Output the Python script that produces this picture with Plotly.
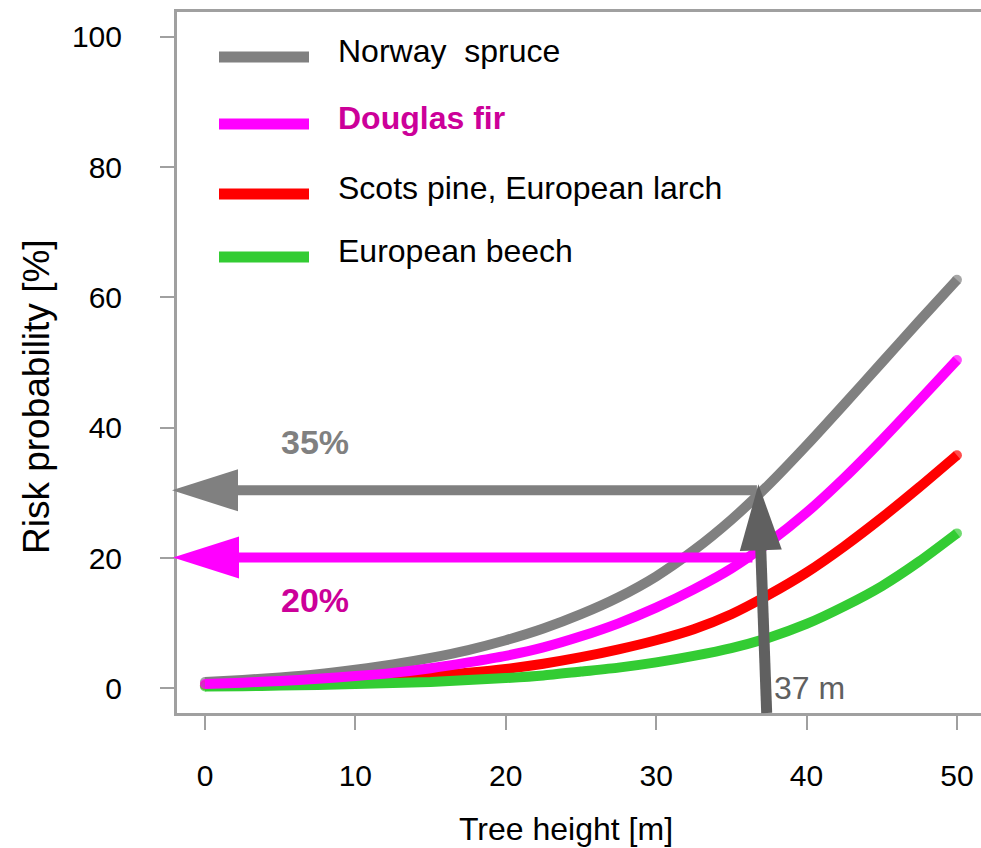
import plotly.graph_objects as go

# ---------------- data ----------------
tree_height = [0, 2.5, 5, 7.5, 10, 12.5, 15, 17.5, 20, 22.5, 25,
               27.5, 30, 32.5, 35, 37.5, 40, 42.5, 45, 47.5, 50]

norway_spruce = [1.0, 1.3, 1.7, 2.2, 2.9, 3.7, 4.7, 5.9, 7.4, 9.2, 11.4,
                 14.0, 17.2, 21.2, 25.9, 31.3, 37.3, 43.6, 50.0, 56.4, 62.7]
douglas_fir = [0.7, 0.9, 1.15, 1.5, 1.9, 2.4, 3.1, 4.0, 5.0, 6.3, 8.0,
               10.0, 12.4, 15.2, 18.4, 22.4, 27.0, 32.3, 38.1, 44.2, 50.4]
scots_pine_larch = [0.5, 0.6, 0.75, 0.95, 1.2, 1.5, 1.9, 2.4, 3.0, 3.8, 4.8,
                    6.0, 7.4, 9.1, 11.4, 14.4, 17.8, 21.8, 26.2, 30.9, 35.8]
european_beech = [0.3, 0.35, 0.45, 0.55, 0.7, 0.85, 1.0, 1.3, 1.6, 2.0, 2.6,
                  3.2, 4.0, 5.0, 6.2, 7.8, 9.9, 12.6, 15.7, 19.5, 23.8]

series_names = ["Norway\u00a0 spruce", "Douglas fir",
                "Scots pine, European larch", "European beech"]
series_values = [norway_spruce, douglas_fir, scots_pine_larch, european_beech]
series_colors = ["#808080", "#ff00ff", "#ff0000", "#33cc33"]
label_colors = ["#000000", "#cc0099", "#000000", "#000000"]
label_bold = [False, True, False, False]
draw_order = [0, 2, 3, 1]

x_ticks = [0, 10, 20, 30, 40, 50]
y_ticks = [0, 20, 40, 60, 80, 100]
x_title = "Tree height [m]"
y_title = "Risk probability [%]"

# example reading: 37 m tall tree
example_height_label = "37 m"
example_height_bottom = 37.35
example_height_top = 36.8
spruce_level = 30.4
spruce_level_label = "35%"
spruce_line_end = 36.7
fir_level = 20.1
fir_level_label = "20%"
fir_line_end = 36.4

# ---------------- geometry helpers ----------------
W, H = 981, 848
PL, PR, PT, PB = 177, 981, 12, 713
X0, X1 = -1.86, 51.6
Y0, Y1 = -3.76, 103.8


def xpx(x):
    return PL + (x - X0) / (X1 - X0) * (PR - PL)


def ypx(y):
    return PB - (y - Y0) / (Y1 - Y0) * (PB - PT)


def xp(px):
    return (px - PL) / (PR - PL)


def yp(py):
    return (PB - py) / (PB - PT)


def arrow_shapes(x_start_px, y_start_px, x_tip_px, y_tip_px, color, width,
                 head_len=66, head_half=21):
    dx, dy = x_tip_px - x_start_px, y_tip_px - y_start_px
    L = (dx * dx + dy * dy) ** 0.5
    ux, uy = dx / L, dy / L
    nx, ny = -uy, ux
    bx, by = x_tip_px - ux * head_len, y_tip_px - uy * head_len
    line = dict(type="line", xref="paper", yref="paper",
                x0=xp(x_start_px), y0=yp(y_start_px),
                x1=xp(bx + ux * 4), y1=yp(by + uy * 4),
                line=dict(color=color, width=width), layer="above")
    p1 = (bx + nx * head_half, by + ny * head_half)
    p2 = (bx - nx * head_half, by - ny * head_half)
    path = "M{},{} L{},{} L{},{} Z".format(
        xp(x_tip_px), yp(y_tip_px), xp(p1[0]), yp(p1[1]), xp(p2[0]), yp(p2[1]))
    head = dict(type="path", xref="paper", yref="paper", path=path,
                fillcolor=color, line=dict(width=0), layer="above")
    return [line, head]


FONT = "Liberation Sans, Arial, sans-serif"

fig = go.Figure()
n = len(tree_height)
for i in draw_order:
    fig.add_trace(go.Scatter(
        x=tree_height, y=series_values[i], name=series_names[i],
        mode="lines+markers",
        line=dict(color=series_colors[i], width=10, shape="spline", smoothing=0.6),
        marker=dict(size=[10] + [0] * (n - 2) + [10], color=series_colors[i],
                    line=dict(width=0)),
        showlegend=False, hoverinfo="skip"))

shapes = []
# horizontal arrows (reading the risk off the y-axis)
shapes += arrow_shapes(xpx(spruce_line_end), ypx(spruce_level),
                       172, ypx(spruce_level), "#808080", 10)
shapes += arrow_shapes(xpx(fir_line_end), ypx(fir_level),
                       173, ypx(fir_level), "#ff00ff", 10)
# vertical arrow at the example tree height
shapes += arrow_shapes(xpx(example_height_bottom), PB,
                       xpx(example_height_top), ypx(spruce_level) - 6,
                       "#606060", 11)

# custom legend
legend_rows_py = [57, 124, 194, 257]
annotations = []
for i, py in enumerate(legend_rows_py):
    shapes.append(dict(type="line", xref="paper", yref="paper",
                       x0=xp(219), x1=xp(309), y0=yp(py), y1=yp(py),
                       line=dict(color=series_colors[i], width=11), layer="above"))
    txt = series_names[i]
    if label_bold[i]:
        txt = "<b>" + txt + "</b>"
    annotations.append(dict(xref="paper", yref="paper", x=xp(336), y=yp(py - 6),
                            xanchor="left", yanchor="middle", showarrow=False,
                            text=txt, font=dict(family=FONT, size=32,
                                                color=label_colors[i])))

annotations.append(dict(xref="x", yref="y", x=(315 - xpx(0)) / 15.04, y=spruce_level + 7.4,
                        text="<b>" + spruce_level_label + "</b>", showarrow=False,
                        xanchor="center", yanchor="middle",
                        font=dict(family=FONT, size=34, color="#808080")))
annotations.append(dict(xref="x", yref="y", x=(315 - xpx(0)) / 15.04, y=fir_level - 6.5,
                        text="<b>" + fir_level_label + "</b>", showarrow=False,
                        xanchor="center", yanchor="middle",
                        font=dict(family=FONT, size=34, color="#cc0099")))
annotations.append(dict(xref="x", yref="y", x=example_height_bottom + 0.35, y=0,
                        text=example_height_label, showarrow=False,
                        xanchor="left", yanchor="middle",
                        font=dict(family=FONT, size=32, color="#606060")))

# axis titles (placed as in the original drawing)
annotations.append(dict(xref="paper", yref="paper", x=xp(566), y=yp(829),
                        text=x_title, showarrow=False,
                        xanchor="center", yanchor="middle",
                        font=dict(family=FONT, size=32, color="#000000")))
annotations.append(dict(xref="paper", yref="paper", x=xp(36), y=yp(397),
                        text=y_title, showarrow=False, textangle=-90,
                        xanchor="center", yanchor="middle",
                        font=dict(family=FONT, size=37, color="#000000")))

axis_common = dict(showgrid=False, zeroline=False, showline=True,
                   linecolor="#a0a0a0", linewidth=3, ticks="outside",
                   ticklen=14, tickwidth=2, tickcolor="#a0a0a0",
                   tickfont=dict(family=FONT, size=30, color="#000000"))

fig.update_layout(
    width=W, height=H,
    margin=dict(l=PL, r=W - PR, t=PT, b=H - PB, pad=0),
    paper_bgcolor="white", plot_bgcolor="white",
    font=dict(family=FONT, color="#000000"),
    xaxis=dict(range=[X0, X1], tickvals=x_ticks, mirror=True,
               ticklabelstandoff=20, **axis_common),
    yaxis=dict(range=[Y0, Y1], tickvals=y_ticks, mirror=False,
               ticklabelstandoff=32, **axis_common),
    shapes=shapes, annotations=annotations, showlegend=False,
)

fig.write_html(
    "out.html",
    config={"displayModeBar": False},
    post_script="document.body.style.margin='0';document.body.style.overflow='hidden';",
)
